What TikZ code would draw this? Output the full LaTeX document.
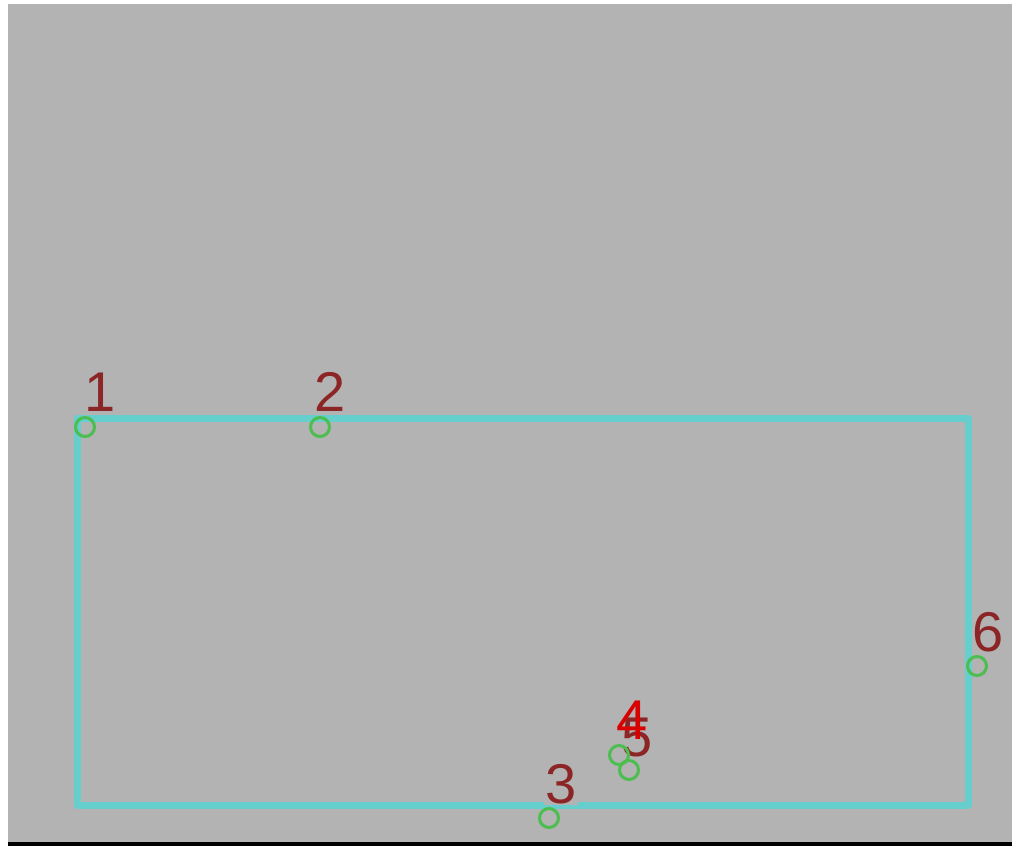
\documentclass[tikz,border=0pt]{standalone}
\usepackage{fontspec}
\setmainfont{Liberation Sans}
\usepackage{xcolor}
\definecolor{bggray}{RGB}{179,179,179}
\definecolor{edgecyan}{RGB}{102,206,204}
\definecolor{ptgreen}{RGB}{76,190,80}
\definecolor{numred}{RGB}{140,38,38}
\tikzset{
  every picture/.style={line join=round, line cap=round},
  edge/.style={draw=edgecyan, line width=7pt, line cap=rect},
  point/.style={circle, draw=ptgreen, line width=3pt, minimum size=19pt, inner sep=0pt},
  num/.style={text=numred, fill=bggray, inner sep=1pt, font=\fontsize{56}{56}\selectfont},
}

\begin{document}
\begin{tikzpicture}[x=1pt, y=-1pt]
\useasboundingbox (0,0) rectangle (1012,846);
\fill[white] (0,0) rectangle (1012,846);
\fill[bggray] (8,4) rectangle (1012,842);
\fill[black] (8,842) rectangle (1012,846);
% outline
\coordinate (nw) at (77,418);
\coordinate (ne) at (968,418);
\coordinate (se) at (968,805);
\coordinate (sw) at (77,805);
\draw[edge] (nw) -- (ne) -- (se) -- (sw) -- cycle;
% labels
\node[num] (n1) at (100,392) {1};
\node[num] (n2) at (330,392) {2};
\node[num] (n3) at (561,784) {3};
\node[num, fill=none] (n5) at (637,737) {5};
\node[num, fill=none, text=red!85!black] (n4) at (632,720) {4};
\node[num, fill=none] (n6) at (988,632) {6};
% points
\node[point] (p1) at (85,427) {};
\node[point] (p2) at (320,427) {};
\node[point] (p3) at (549,818) {};
\node[point] (p4) at (619,755) {};
\node[point] (p5) at (629,770) {};
\node[point] (p6) at (977,666) {};
\end{tikzpicture}
\end{document}
